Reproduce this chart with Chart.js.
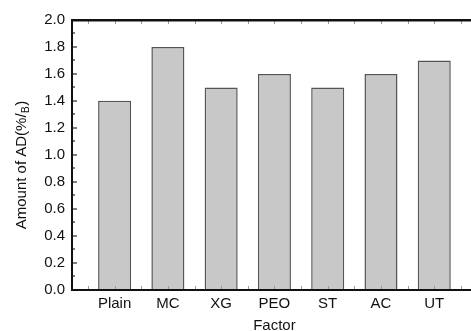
<!DOCTYPE html>
<html>
<head>
<meta charset="utf-8">
<script src="https://cdn.jsdelivr.net/npm/chart.js@4.4.1/dist/chart.umd.min.js"></script>
<style>
  html, body { margin: 0; padding: 0; background: #fff; overflow: hidden; }
</style>
</head>
<body>
<canvas id="c" width="471" height="331"></canvas>
<script>
// Amount of AD for each additive factor
const categories = ['Plain', 'MC', 'XG', 'PEO', 'ST', 'AC', 'UT'];
const amounts = [1.4, 1.8, 1.5, 1.6, 1.5, 1.6, 1.7];
const yTickValues = [0.0, 0.2, 0.4, 0.6, 0.8, 1.0, 1.2, 1.4, 1.6, 1.8, 2.0];

const FONT = '"Liberation Sans", Arial, Helvetica, sans-serif';

// Frame, inward ticks and axis titles
const framePlugin = {
  id: 'frame',
  afterDraw(chart) {
    const ctx = chart.ctx;
    const xs = chart.scales.x, ys = chart.scales.y;
    const left = Math.round(xs.getPixelForValue(xs.min));
    const right = chart.width;
    const top = Math.round(ys.getPixelForValue(ys.max));
    const bottom = Math.round(ys.getPixelForValue(ys.min));
    ctx.save();

    // minor y ticks every 0.1, major every 0.2
    ctx.fillStyle = '#000';
    for (let i = 0; i <= 20; i++) {
      const py = Math.round(ys.getPixelForValue(i / 10));
      const len = (i % 2 === 0) ? 5 : 3;
      ctx.fillRect(left, py - 0.5, len, 1);
    }

    // x ticks every half category, top and bottom
    ctx.fillStyle = '#999';
    for (let v = 0.5; v <= xs.max; v += 0.5) {
      const px = Math.round(xs.getPixelForValue(v));
      ctx.fillRect(px, bottom - 4, 1, 3);
      ctx.fillRect(px, top + 1, 1, 3);
    }

    // axis lines: top, left, bottom
    ctx.fillStyle = '#111';
    ctx.fillRect(left - 1, top - 1, right - left + 1, 2.5);
    ctx.fillRect(left - 1, top - 1, 2, bottom - top + 2);
    ctx.fillRect(left - 1, bottom - 1, right - left + 1, 2);

    // x axis title
    ctx.font = '15px ' + FONT;
    ctx.textAlign = 'center';
    ctx.textBaseline = 'alphabetic';
    ctx.fillText('Factor', xs.getPixelForValue(4), 330);

    // y axis title with subscript
    const main1 = 'Amount of AD(%/';
    const sub = 'B';
    const main2 = ')';
    ctx.font = '15px ' + FONT;
    const w1 = ctx.measureText(main1).width;
    const w3 = ctx.measureText(main2).width;
    ctx.font = '10px ' + FONT;
    const w2 = ctx.measureText(sub).width;
    const total = w1 + w2 + w3 + 1;
    ctx.translate(25.5, (top + bottom) / 2 + 10);
    ctx.rotate(-Math.PI / 2);
    ctx.textAlign = 'left';
    const x0 = -total / 2;
    ctx.font = '15px ' + FONT;
    ctx.fillText(main1, x0, 0);
    ctx.font = '10px ' + FONT;
    ctx.fillText(sub, x0 + w1 + 0.5, 3);
    ctx.font = '15px ' + FONT;
    ctx.fillText(main2, x0 + w1 + w2 + 1, 0);
    ctx.restore();
  }
};

new Chart(document.getElementById('c'), {
  type: 'bar',
  data: {
    datasets: [{
      data: categories.map((c, i) => ({ x: i + 1, y: amounts[i] })),
      backgroundColor: '#c8c8c8',
      borderColor: '#555',
      borderWidth: 1.5,
      barPercentage: 0.62,
      categoryPercentage: 1.0
    }]
  },
  options: {
    responsive: false,
    animation: false,
    devicePixelRatio: 1,
    layout: { padding: { left: 0, right: 0, top: 20, bottom: 0 } },
    plugins: { legend: { display: false }, tooltip: { enabled: false } },
    scales: {
      x: {
        type: 'linear',
        offset: false,
        min: 0.2,
        max: 7.69,
        grid: { display: false, drawTicks: false, offset: false },
        border: { display: false },
        afterBuildTicks(scale) {
          scale.ticks = categories.map((c, i) => ({ value: i + 1 }));
        },
        afterFit(scale) { scale.height = 41.5; },
        ticks: {
          autoSkip: false,
          maxRotation: 0,
          padding: 5,
          color: '#111',
          font: { family: FONT, size: 15 },
          callback: (v) => categories[Math.round(v) - 1] || ''
        }
      },
      y: {
        min: 0,
        max: 2.0,
        grid: { display: false, drawTicks: false },
        border: { display: false },
        afterBuildTicks(scale) {
          scale.ticks = yTickValues.map(v => ({ value: v }));
        },
        afterFit(scale) { scale.width = 72; },
        ticks: {
          padding: 7,
          color: '#111',
          font: { family: FONT, size: 15 },
          callback: (v) => Number(v).toFixed(1)
        }
      }
    }
  },
  plugins: [framePlugin]
});
</script>
</body>
</html>
